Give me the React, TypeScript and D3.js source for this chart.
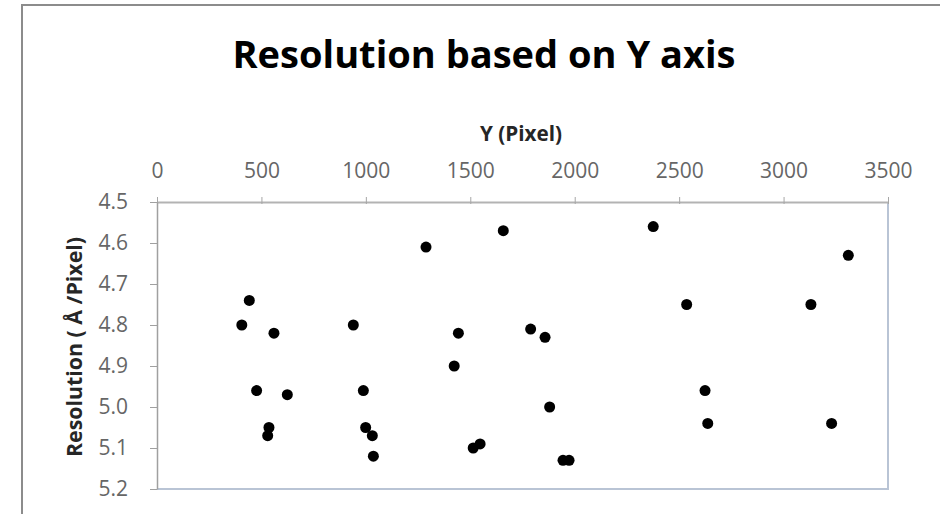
import * as d3 from 'd3'
import { useEffect, useRef } from 'react'

// Y position (pixel) and measured resolution for each sample
const pixelY = [
  406, 442, 560, 477, 624, 536, 530, 940, 988, 999, 1031, 1036, 1288, 1443, 1423,
  1514, 1547, 1658, 1789, 1858, 1880, 1944, 1973, 2376, 2536, 2624, 2637, 3131, 3230, 3310,
]
const resolution = [
  4.80, 4.74, 4.82, 4.96, 4.97, 5.05, 5.07, 4.80, 4.96, 5.05, 5.07, 5.12, 4.61, 4.82, 4.90,
  5.10, 5.09, 4.57, 4.81, 4.83, 5.00, 5.13, 5.13, 4.56, 4.75, 4.96, 5.04, 4.75, 5.04, 4.63,
]
const xTicks = [0, 500, 1000, 1500, 2000, 2500, 3000, 3500]
const yTicks = [4.5, 4.6, 4.7, 4.8, 4.9, 5.0, 5.1, 5.2]

const title = 'Resolution based on Y axis'
const xTitle = 'Y (Pixel)'
const yTitle = 'Resolution ( Å /Pixel)'

const App = () => {
  const ref = useRef<SVGSVGElement>(null)

  useEffect(() => {
    if (!ref.current) return
    const width = 940
    const height = 514
    const left = 157, right = 888, top = 202, bottom = 489
    const font = '"Open Sans", sans-serif'

    const svg = d3.select(ref.current).attr('width', width).attr('height', height)
    const g = svg.append('g')

    // chart area border (only top/left visible in the crop)
    g.append('rect')
      .attr('x', 22).attr('y', 5)
      .attr('width', 960).attr('height', 540)
      .attr('fill', '#fff')
      .attr('stroke', '#8c8c8c')
      .attr('stroke-width', 2)

    const x = d3.scaleLinear().domain([0, 3500]).range([left, right])
    const y = d3.scaleLinear().domain([4.5, 5.2]).range([top, bottom])

    // plot area border right/bottom
    g.append('path')
      .attr('d', `M${right},${top}V${bottom}H${left}`)
      .attr('fill', 'none')
      .attr('stroke', '#b9c4d5')
      .attr('stroke-width', 2)

    const xAxis = g.append('g')
      .attr('transform', `translate(0,${top})`)
      .call(d3.axisTop(x).tickValues(xTicks).tickFormat(d3.format('d')).tickSizeInner(5).tickSizeOuter(0).tickPadding(19))
    xAxis.select('.domain').attr('stroke', '#b3b3b3').attr('stroke-width', 2)
    xAxis.selectAll('.tick line').attr('stroke', '#a6a6a6').attr('y2', -5).attr('y1', 2)
    xAxis.selectAll('.tick text')
      .attr('fill', '#666')
      .style('font-family', font)
      .style('font-size', '21px')

    const yAxis = g.append('g')
      .attr('transform', `translate(${left},0)`)
      .call(d3.axisLeft(y).tickValues(yTicks).tickFormat(d3.format('.1f')).tickSizeInner(7).tickSizeOuter(0).tickPadding(22))
    yAxis.select('.domain').attr('stroke', '#a0a0a0').attr('stroke-width', 1.5)
    yAxis.selectAll('.tick line').attr('stroke', '#a0a0a0')
    yAxis.selectAll('.tick text')
      .attr('fill', '#666')
      .style('font-family', font)
      .style('font-size', '21px')

    g.selectAll('circle.pt')
      .data(pixelY.map((v, i) => ({ v, r: resolution[i] })))
      .enter()
      .append('circle')
      .attr('class', 'pt')
      .attr('cx', d => x(d.v))
      .attr('cy', d => y(d.r))
      .attr('r', 5.5)
      .attr('fill', '#000')

    g.append('text')
      .attr('x', 484).attr('y', 68)
      .attr('text-anchor', 'middle')
      .attr('textLength', 503)
      .attr('lengthAdjust', 'spacingAndGlyphs')
      .style('font-family', font)
      .style('font-weight', 'bold')
      .style('font-size', '38px')
      .attr('fill', '#000')
      .text(title)

    g.append('text')
      .attr('x', 521).attr('y', 141)
      .attr('text-anchor', 'middle')
      .attr('textLength', 82)
      .attr('lengthAdjust', 'spacingAndGlyphs')
      .style('font-family', font)
      .style('font-weight', 'bold')
      .style('font-size', '22px')
      .attr('fill', '#262626')
      .text(xTitle)

    g.append('text')
      .attr('transform', 'translate(82,347) rotate(-90)')
      .attr('text-anchor', 'middle')
      .attr('textLength', 220)
      .attr('lengthAdjust', 'spacingAndGlyphs')
      .style('font-family', font)
      .style('font-weight', 'bold')
      .style('font-size', '22px')
      .attr('fill', '#262626')
      .text(yTitle)

    return () => {
      g.remove()
    }
  }, [])

  return (
    <svg ref={ref} style={{ position: 'absolute', left: 0, top: 0, background: '#fff' }} />
  )
}

export default App
